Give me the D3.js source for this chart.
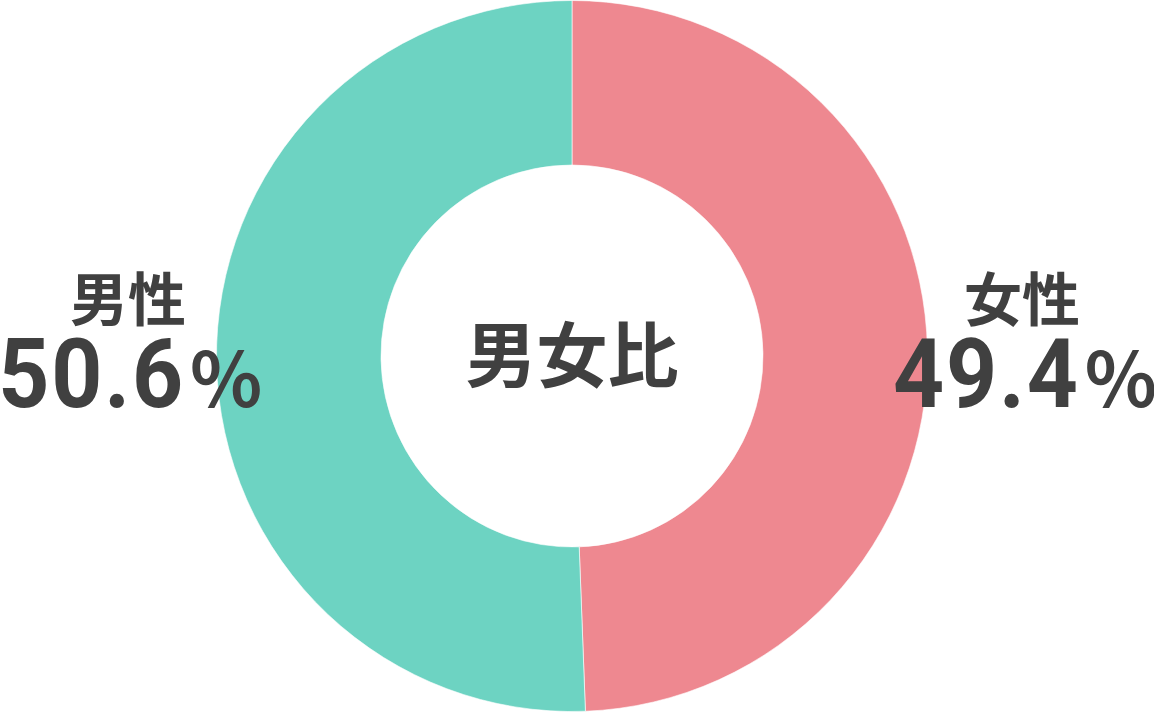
<!DOCTYPE html>
<html>
<head>
<meta charset="utf-8">
<script src="https://cdn.jsdelivr.net/npm/d3@7"></script>
<style>
	html, body { margin: 0; padding: 0; background: #fff; }
	svg { display: block; }
</style>
</head>
<body>
<svg id="chart"></svg>
<script>
	// data
	var categories = ["女性", "男性"];
	var values = [49.4, 50.6];
	var colorList = ["#ee8890", "#6dd3c2"];
	var centerTitle = "男女比";

	var width = 1154,
		height = 712;

	var cx = 572,
		cy = 356,
		outer = 355.5,
		inner = 191;

	var svg = d3.select("#chart")
		.attr("width", width)
		.attr("height", height);

	var pie = d3.pie()
		.sort(null)
		.value(function(d) { return d; });

	var arc = d3.arc()
		.innerRadius(inner)
		.outerRadius(outer);

	var color = d3.scaleOrdinal()
		.domain(categories)
		.range(colorList);

	var g = svg.append("g")
		.attr("transform", "translate(" + cx + "," + cy + ")");

	g.selectAll("path.slice")
		.data(pie(values))
		.enter().append("path")
		.attr("class", "slice")
		.attr("d", arc)
		.style("fill", function(d, i) { return color(categories[i]); })
		.style("stroke", "#fff")
		.style("stroke-width", 0.6);

	// centre label
	svg.append("text")
		.attr("x", cx)
		.attr("y", cy + 25)
		.style("text-anchor", "middle")
		.style("font-family", "'Noto Sans CJK JP', sans-serif")
		.style("font-weight", "bold")
		.style("font-size", "71px")
		.style("fill", "#404040")
		.text(centerTitle);

	// side labels: name centre x, number start x
	var labelPos = [
		{ nx: 1022, vx: 893 },
		{ nx: 128, vx: -1.7 }
	];

	var squeeze = 0.92; // digits in the original are a bit narrower than Roboto

	categories.forEach(function(c, i) {
		var p = labelPos[i];

		svg.append("text")
			.attr("x", p.nx)
			.attr("y", 321)
			.style("text-anchor", "middle")
			.style("font-family", "'Noto Sans CJK JP', sans-serif")
			.style("font-weight", "bold")
			.style("font-size", "58px")
			.style("fill", "#404040")
			.text(c);

		var num = svg.append("text")
			.attr("transform", "translate(" + p.vx + ",407) scale(" + squeeze + ",1)")
			.style("font-family", "Roboto, sans-serif")
			.style("font-weight", "bold")
			.style("font-size", "97px")
			.style("letter-spacing", "2px")
			.style("fill", "#404040")
			.text(d3.format(".1f")(values[i]));

		var len = num.node().getComputedTextLength();

		svg.append("text")
			.attr("x", p.vx + len * squeeze + 5)
			.attr("y", 407)
			.style("font-family", "'Noto Sans CJK JP', sans-serif")
			.style("font-weight", "bold")
			.style("font-size", "75px")
			.style("fill", "#404040")
			.text("%");
	});
</script>
</body>
</html>
